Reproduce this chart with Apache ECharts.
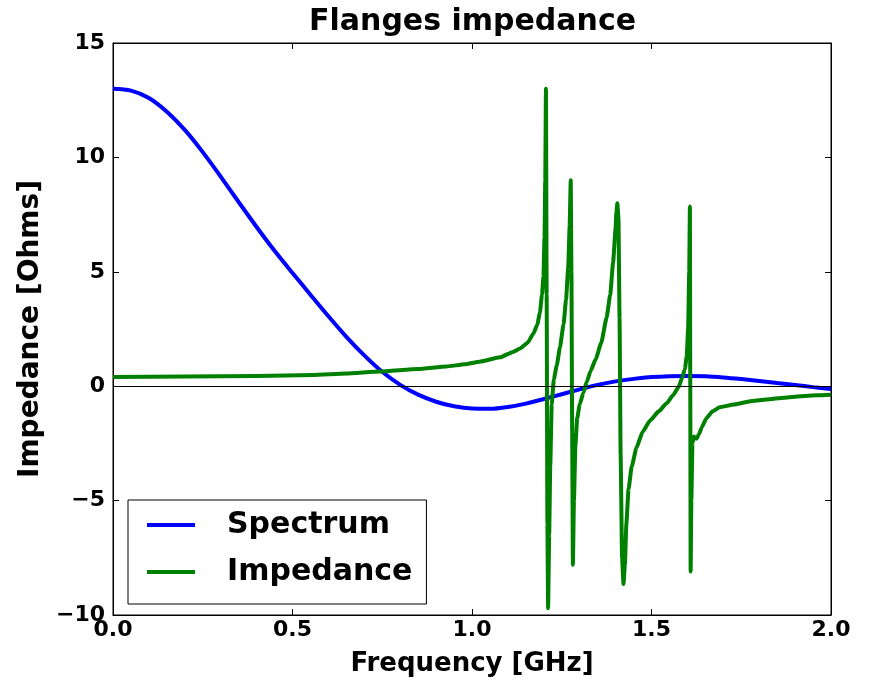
<!DOCTYPE html>
<html>
<head>
<meta charset="utf-8">
<title>Flanges impedance</title>
<script src="https://cdn.jsdelivr.net/npm/echarts@6/dist/echarts.min.js"></script>
<style>
  html, body { margin: 0; padding: 0; background: #fff; }
  #chart { width: 869px; height: 682px; }
</style>
</head>
<body>
<div id="chart"></div>
<script>
// Frequency axis ticks (GHz) and impedance ticks (Ohms)
const xTicks = [0.0, 0.5, 1.0, 1.5, 2.0];
const yTicks = [-10, -5, 0, 5, 10, 15];

// Spectrum curve: frequency [GHz] and amplitude
const spectrumFreq = [0, 0.05, 0.10, 0.15, 0.20, 0.25, 0.30, 0.35, 0.40, 0.45,
  0.50, 0.55, 0.60, 0.65, 0.70, 0.75, 0.80, 0.85, 0.90, 0.95,
  1.00, 1.05, 1.10, 1.15, 1.20, 1.25, 1.30, 1.35, 1.40, 1.45,
  1.50, 1.55, 1.60, 1.65, 1.70, 1.75, 1.80, 1.85, 1.90, 1.95,
  2.00];
const spectrumVal = [13.0, 12.92, 12.6, 12.0, 11.2, 10.23, 9.16, 8.05, 6.96, 5.92,
  4.95, 4.0, 3.06, 2.16, 1.35, 0.63, 0.06, -0.37, -0.68, -0.88,
  -0.98, -0.99, -0.91, -0.76, -0.56, -0.35, -0.14, 0.06, 0.21, 0.32,
  0.40, 0.44, 0.45, 0.43, 0.38, 0.31, 0.23, 0.14, 0.05, -0.04,
  -0.12];

// Flange impedance: frequency [GHz] and impedance [Ohms]
const impedanceFreq = [0.00, 0.20, 0.40, 0.557, 0.65, 0.743, 0.85, 0.929, 0.98, 1.021,
  1.078, 1.114, 1.134, 1.155, 1.171, 1.182, 1.189, 1.195, 1.199, 1.202,
  1.204, 1.206, 1.208, 1.210, 1.212, 1.215, 1.218, 1.222, 1.228, 1.236,
  1.245, 1.255, 1.262, 1.268, 1.272, 1.275, 1.277, 1.279, 1.281, 1.284,
  1.288, 1.293, 1.30, 1.31, 1.32, 1.33, 1.345, 1.36, 1.375, 1.385,
  1.393, 1.400, 1.402, 1.405, 1.408, 1.411, 1.414, 1.418, 1.422, 1.426,
  1.430, 1.436, 1.445, 1.458, 1.475, 1.496, 1.52, 1.542, 1.56, 1.575,
  1.585, 1.593, 1.598, 1.602, 1.605, 1.607, 1.608, 1.609, 1.611, 1.614,
  1.618, 1.625, 1.632, 1.64, 1.653, 1.67, 1.69, 1.73, 1.78, 1.82,
  1.87, 1.914, 1.96, 2.00];
const impedanceVal = [0.40, 0.42, 0.45, 0.49, 0.55, 0.64, 0.75, 0.86, 0.96, 1.07,
  1.26, 1.5, 1.65, 1.9, 2.3, 2.7, 3.2, 4.0, 4.8, 6.5,
  9.0, 13.0, 4.0, -6.0, -9.7, -6.5, -3.5, -0.8, 0.3, 0.9,
  1.7, 2.7, 3.8, 5.2, 7.0, 9.0, 5.0, -2.0, -7.8, -5.0,
  -2.6, -1.4, -0.8, -0.3, 0.2, 0.65, 1.2, 1.9, 3.0, 4.0,
  5.4, 6.9, 7.6, 8.0, 7.3, 3.0, -3.0, -7.5, -8.65, -7.8,
  -6.0, -4.5, -3.5, -2.7, -2.0, -1.5, -1.1, -0.75, -0.4, -0.05,
  0.35, 0.75, 1.3, 2.5, 5.0, 7.85, 0.0, -8.1, -5.0, -2.5,
  -2.2, -2.3, -2.1, -1.8, -1.4, -1.1, -0.92, -0.8, -0.65, -0.58,
  -0.5, -0.44, -0.4, -0.37];

const pairs = (xs, ys) => xs.map((x, i) => [x, ys[i]]);

const FONT = '"DejaVu Sans", sans-serif';
const black = '#000000';

const chart = echarts.init(document.getElementById('chart'), null, { renderer: 'canvas' });

const frameLine = { show: true, onZero: false, lineStyle: { color: black, width: 1 } };
const insideTicks = { show: true, inside: true, length: 6, lineStyle: { color: black, width: 1 } };

chart.setOption({
  animation: false,
  backgroundColor: '#ffffff',
  title: {
    text: 'Flanges impedance',
    left: 304,
    top: 2,
    textStyle: { fontFamily: FONT, fontWeight: 'bold', fontSize: 30, color: black }
  },
  grid: {
    left: 113, right: 38, top: 43, bottom: 64, containLabel: false,
    show: true, borderColor: black, borderWidth: 1, backgroundColor: 'transparent'
  },
  legend: {
    orient: 'vertical',
    left: 128,
    top: 500,
    icon: 'rect',
    itemWidth: 48,
    itemHeight: 4,
    itemGap: 11,
    padding: [7, 14, 14, 19],
    backgroundColor: '#ffffff',
    borderColor: black,
    borderWidth: 1,
    borderRadius: 0,
    textStyle: {
      fontFamily: FONT, fontWeight: 'bold', fontSize: 30, color: black,
      lineHeight: 36, padding: [0, 0, 0, 27]
    },
    data: ['Spectrum', 'Impedance']
  },
  xAxis: [
    {
      type: 'value', min: xTicks[0], max: xTicks[xTicks.length - 1], interval: 0.5,
      name: 'Frequency [GHz]', nameLocation: 'middle', nameGap: 36,
      nameTextStyle: { fontFamily: FONT, fontWeight: 'bold', fontSize: 26, color: black },
      axisLine: frameLine, axisTick: insideTicks, splitLine: { show: false },
      axisLabel: {
        margin: 4, fontFamily: FONT, fontWeight: 'bold', fontSize: 22, color: black,
        formatter: v => v.toFixed(1)
      }
    },
    {
      type: 'value', position: 'top', min: xTicks[0], max: xTicks[xTicks.length - 1], interval: 0.5,
      axisLine: frameLine, axisTick: insideTicks, splitLine: { show: false },
      axisLabel: { show: false }
    }
  ],
  yAxis: [
    {
      type: 'value', min: yTicks[0], max: yTicks[yTicks.length - 1], interval: 5,
      name: 'Impedance [Ohms]', nameLocation: 'middle', nameGap: 67, nameRotate: 90,
      nameTextStyle: { fontFamily: FONT, fontWeight: 'bold', fontSize: 28, color: black },
      axisLine: frameLine, axisTick: insideTicks, splitLine: { show: false },
      axisLabel: {
        margin: 8, fontFamily: FONT, fontWeight: 'bold', fontSize: 22, color: black,
        formatter: v => String(v).replace('-', '\u2212')
      }
    },
    {
      type: 'value', position: 'right', min: yTicks[0], max: yTicks[yTicks.length - 1], interval: 5,
      axisLine: frameLine, axisTick: insideTicks, splitLine: { show: false },
      axisLabel: { show: false }
    }
  ],
  series: [
    {
      name: 'Spectrum',
      type: 'line',
      xAxisIndex: 0, yAxisIndex: 0,
      data: pairs(spectrumFreq, spectrumVal),
      showSymbol: false,
      smooth: 0.3,
      lineStyle: { color: '#0000ff', width: 4 },
      itemStyle: { color: '#0000ff' },
      z: 2
    },
    {
      name: 'Impedance',
      type: 'line',
      xAxisIndex: 0, yAxisIndex: 0,
      data: pairs(impedanceFreq, impedanceVal),
      showSymbol: false,
      smooth: 0.15,
      smoothMonotone: 'x',
      lineStyle: { color: '#008000', width: 4, join: 'round' },
      itemStyle: { color: '#008000' },
      z: 3,
      markLine: {
        silent: true,
        symbol: ['none', 'none'],
        label: { show: false },
        lineStyle: { color: black, width: 1, type: 'solid' },
        data: [{ yAxis: 0 }]
      }
    }
  ]
});
</script>
</body>
</html>
